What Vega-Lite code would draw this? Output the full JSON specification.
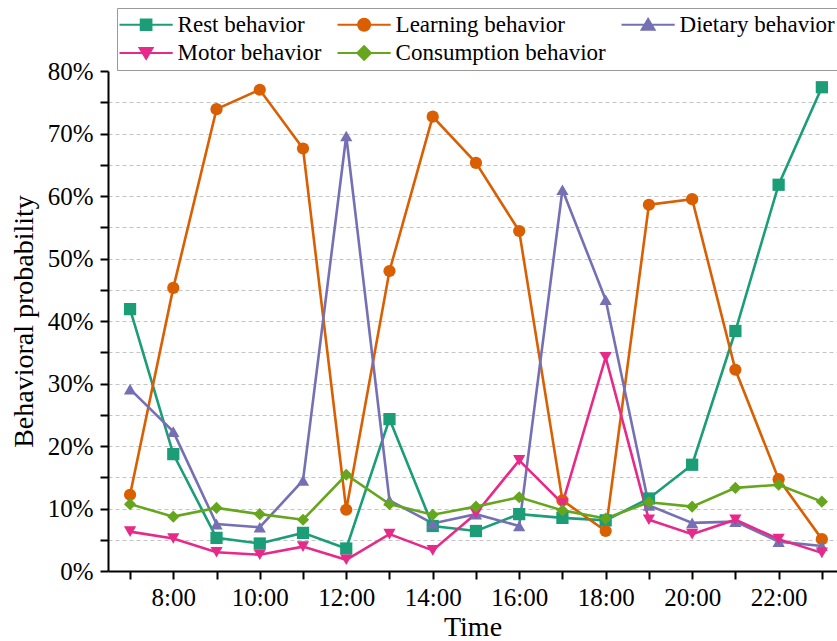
{
  "$schema": "https://vega.github.io/schema/vega-lite/v6.json",
  "width": 729,
  "height": 500,
  "autosize": {"type": "none"},
  "padding": {"left": 108, "top": 71, "right": 0, "bottom": 70},
  "background": "white",
  "config": {
    "view": {"stroke": null},
    "font": "Liberation Serif"
  },
  "data": {
    "values": [
      {"h": 7, "s": "Rest behavior", "p": 41.9},
      {"h": 8, "s": "Rest behavior", "p": 18.7},
      {"h": 9, "s": "Rest behavior", "p": 5.3},
      {"h": 10, "s": "Rest behavior", "p": 4.4},
      {"h": 11, "s": "Rest behavior", "p": 6.1},
      {"h": 12, "s": "Rest behavior", "p": 3.6},
      {"h": 13, "s": "Rest behavior", "p": 24.3},
      {"h": 14, "s": "Rest behavior", "p": 7.2},
      {"h": 15, "s": "Rest behavior", "p": 6.4},
      {"h": 16, "s": "Rest behavior", "p": 9.1},
      {"h": 17, "s": "Rest behavior", "p": 8.5},
      {"h": 18, "s": "Rest behavior", "p": 8.1},
      {"h": 19, "s": "Rest behavior", "p": 11.6},
      {"h": 20, "s": "Rest behavior", "p": 17.0},
      {"h": 21, "s": "Rest behavior", "p": 38.4},
      {"h": 22, "s": "Rest behavior", "p": 61.8},
      {"h": 23, "s": "Rest behavior", "p": 77.4},

      {"h": 7, "s": "Learning behavior", "p": 12.2},
      {"h": 8, "s": "Learning behavior", "p": 45.3},
      {"h": 9, "s": "Learning behavior", "p": 73.9},
      {"h": 10, "s": "Learning behavior", "p": 77.0},
      {"h": 11, "s": "Learning behavior", "p": 67.6},
      {"h": 12, "s": "Learning behavior", "p": 9.8},
      {"h": 13, "s": "Learning behavior", "p": 48.0},
      {"h": 14, "s": "Learning behavior", "p": 72.7},
      {"h": 15, "s": "Learning behavior", "p": 65.3},
      {"h": 16, "s": "Learning behavior", "p": 54.4},
      {"h": 17, "s": "Learning behavior", "p": 11.3},
      {"h": 18, "s": "Learning behavior", "p": 6.4},
      {"h": 19, "s": "Learning behavior", "p": 58.6},
      {"h": 20, "s": "Learning behavior", "p": 59.5},
      {"h": 21, "s": "Learning behavior", "p": 32.2},
      {"h": 22, "s": "Learning behavior", "p": 14.7},
      {"h": 23, "s": "Learning behavior", "p": 5.1},

      {"h": 7, "s": "Dietary behavior", "p": 29.1},
      {"h": 8, "s": "Dietary behavior", "p": 22.3},
      {"h": 9, "s": "Dietary behavior", "p": 7.5},
      {"h": 10, "s": "Dietary behavior", "p": 7.0},
      {"h": 11, "s": "Dietary behavior", "p": 14.5},
      {"h": 12, "s": "Dietary behavior", "p": 69.6},
      {"h": 13, "s": "Dietary behavior", "p": 11.3},
      {"h": 14, "s": "Dietary behavior", "p": 7.6},
      {"h": 15, "s": "Dietary behavior", "p": 9.1},
      {"h": 16, "s": "Dietary behavior", "p": 7.2},
      {"h": 17, "s": "Dietary behavior", "p": 61.0},
      {"h": 18, "s": "Dietary behavior", "p": 43.4},
      {"h": 19, "s": "Dietary behavior", "p": 10.5},
      {"h": 20, "s": "Dietary behavior", "p": 7.7},
      {"h": 21, "s": "Dietary behavior", "p": 7.9},
      {"h": 22, "s": "Dietary behavior", "p": 4.7},
      {"h": 23, "s": "Dietary behavior", "p": 4.0},

      {"h": 7, "s": "Motor behavior", "p": 6.3},
      {"h": 8, "s": "Motor behavior", "p": 5.2},
      {"h": 9, "s": "Motor behavior", "p": 3.0},
      {"h": 10, "s": "Motor behavior", "p": 2.6},
      {"h": 11, "s": "Motor behavior", "p": 3.9},
      {"h": 12, "s": "Motor behavior", "p": 1.8},
      {"h": 13, "s": "Motor behavior", "p": 5.9},
      {"h": 14, "s": "Motor behavior", "p": 3.3},
      {"h": 15, "s": "Motor behavior", "p": 9.2},
      {"h": 16, "s": "Motor behavior", "p": 17.7},
      {"h": 17, "s": "Motor behavior", "p": 10.8},
      {"h": 18, "s": "Motor behavior", "p": 34.2},
      {"h": 19, "s": "Motor behavior", "p": 8.2},
      {"h": 20, "s": "Motor behavior", "p": 5.9},
      {"h": 21, "s": "Motor behavior", "p": 8.2},
      {"h": 22, "s": "Motor behavior", "p": 5.1},
      {"h": 23, "s": "Motor behavior", "p": 2.9},

      {"h": 7, "s": "Consumption behavior", "p": 10.7},
      {"h": 8, "s": "Consumption behavior", "p": 8.7},
      {"h": 9, "s": "Consumption behavior", "p": 10.1},
      {"h": 10, "s": "Consumption behavior", "p": 9.1},
      {"h": 11, "s": "Consumption behavior", "p": 8.2},
      {"h": 12, "s": "Consumption behavior", "p": 15.4},
      {"h": 13, "s": "Consumption behavior", "p": 10.7},
      {"h": 14, "s": "Consumption behavior", "p": 9.0},
      {"h": 15, "s": "Consumption behavior", "p": 10.3},
      {"h": 16, "s": "Consumption behavior", "p": 11.8},
      {"h": 17, "s": "Consumption behavior", "p": 9.7},
      {"h": 18, "s": "Consumption behavior", "p": 8.4},
      {"h": 19, "s": "Consumption behavior", "p": 11.0},
      {"h": 20, "s": "Consumption behavior", "p": 10.3},
      {"h": 21, "s": "Consumption behavior", "p": 13.3},
      {"h": 22, "s": "Consumption behavior", "p": 13.8},
      {"h": 23, "s": "Consumption behavior", "p": 11.1}
    ]
  },
  "encoding": {
    "x": {
      "field": "h",
      "type": "quantitative",
      "scale": {"domain": [6.49, 23.35], "nice": false, "zero": false},
      "axis": {
        "title": "Time",
        "values": [7, 8, 9, 10, 11, 12, 13, 14, 15, 16, 17, 18, 19, 20, 21, 22, 23],
        "labelExpr": "datum.value % 2 === 0 ? datum.value + ':00' : ''",
        "grid": false,
        "domainColor": "black",
        "domainWidth": 2,
        "tickColor": "black",
        "tickWidth": 2,
        "tickSize": 8,
        "labelFont": "Liberation Serif",
        "labelFontSize": 25,
        "labelColor": "black",
        "labelPadding": 6,
        "labelFlush": false,
        "labelOverlap": false,
        "titleFont": "Liberation Serif",
        "titleFontSize": 28,
        "titleFontWeight": "normal",
        "titleColor": "black",
        "titlePadding": 3
      }
    },
    "y": {
      "field": "p",
      "type": "quantitative",
      "scale": {"domain": [0, 80], "nice": false},
      "axis": {
        "title": "Behavioral probability",
        "values": [0, 5, 10, 15, 20, 25, 30, 35, 40, 45, 50, 55, 60, 65, 70, 75, 80],
        "labelExpr": "datum.value % 10 === 0 ? datum.value + '%' : ''",
        "grid": true,
        "gridDash": [4, 3],
        "gridWidth": 1,
        "gridColor": {"condition": {"test": "datum.value === 0 || datum.value === 80", "value": "transparent"}, "value": "#c4c4c4"},
        "domainColor": "black",
        "domainWidth": 2,
        "tickColor": "black",
        "tickWidth": 2,
        "tickSize": 8,
        "labelFont": "Liberation Serif",
        "labelFontSize": 25,
        "labelColor": "black",
        "labelPadding": 7,
        "labelFlush": false,
        "labelOverlap": false,
        "titleFont": "Liberation Serif",
        "titleFontSize": 28,
        "titleFontWeight": "normal",
        "titleColor": "black",
        "titlePadding": 9
      }
    },
    "color": {
      "field": "s",
      "type": "nominal",
      "scale": {
        "domain": ["Rest behavior", "Learning behavior", "Dietary behavior", "Motor behavior", "Consumption behavior"],
        "range": ["#1b9e77", "#d95f02", "#7570b3", "#e7298a", "#66a61e"]
      },
      "legend": {
        "orient": "none",
        "direction": "horizontal",
        "legendX": 9,
        "legendY": -63,
        "columns": 3,
        "title": null,
        "labelFont": "Liberation Serif",
        "labelFontSize": 23,
        "labelColor": "black",
        "labelLimit": 400,
        "symbolSize": 196,
        "symbolOffset": 12.6,
        "labelOffset": 20,
        "columnPadding": 11,
        "rowPadding": 4.5,
        "padding": 5,
        "strokeColor": "#999999",
        "fillColor": "white",
        "encoding": {
          "symbols": {
            "shape": {"value": {"expr": "datum.value === 'Rest behavior' ? 'M-3.8,0H3.8M-0.75,-0.75H0.75V0.75H-0.75Z' : datum.value === 'Learning behavior' ? 'M-3.8,0H3.8M-0.85,0A0.85,0.85 0 1 0 0.85,0A0.85,0.85 0 1 0 -0.85,0Z' : datum.value === 'Dietary behavior' ? 'M-3.8,0H3.8M0,-0.8L0.9,0.7H-0.9Z' : datum.value === 'Motor behavior' ? 'M-3.8,0H3.8M0,0.8L0.9,-0.7H-0.9Z' : 'M-3.8,0H3.8M0,-0.95L0.95,0L0,0.95L-0.95,0Z'"}},
            "fill": {"value": {"expr": "scale('color', datum.value)"}},
            "stroke": {"value": {"expr": "scale('color', datum.value)"}},
            "strokeWidth": {"value": 2.2},
            "opacity": {"value": 1}
          }
        }
      }
    }
  },
  "layer": [
    {"mark": {"type": "line", "strokeWidth": 2.6}},
    {
      "mark": {"type": "point", "filled": true, "opacity": 1},
      "encoding": {
        "shape": {
          "field": "s",
          "type": "nominal",
          "scale": {
            "domain": ["Consumption behavior", "Dietary behavior", "Learning behavior", "Motor behavior", "Rest behavior"],
            "range": ["diamond", "triangle-up", "circle", "triangle-down", "square"]
          },
          "legend": null
        },
        "size": {
          "field": "s",
          "type": "ordinal",
          "scale": {
            "domain": ["Motor behavior", "Dietary behavior", "Consumption behavior", "Rest behavior", "Learning behavior"],
            "range": [150, 150, 170, 120, 125]
          },
          "legend": null
        }
      }
    }
  ]
}
